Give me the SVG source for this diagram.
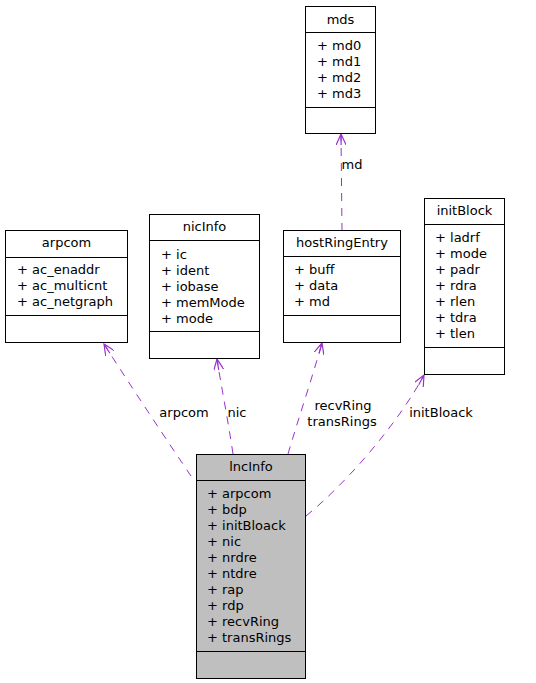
<svg xmlns="http://www.w3.org/2000/svg" width="536" height="683" viewBox="0 0 536 683">
<style>
text{font-family:"DejaVu Sans","Liberation Sans",sans-serif;font-size:13px;fill:#000}
.c{text-anchor:middle}
.box{fill:#fff;stroke:#000;stroke-width:1}
.hl{fill:#bfbfbf}
.ln{stroke:#000;stroke-width:1}
.e{fill:none;stroke:#9a32cd;stroke-width:1;stroke-dasharray:8,7;marker-end:url(#arr)}
.el{font-size:13px}
</style>
<defs>
<marker id="arr" viewBox="0 0 12 10" refX="11" refY="5" markerWidth="12" markerHeight="10" markerUnits="userSpaceOnUse" orient="auto">
<path d="M0,0 L11,5 L0,10 M0,5 L11,5" fill="none" stroke="#9a32cd" stroke-width="1.2"/>
</marker>
</defs>
<g id="edges">
<path class="e" d="M191,476 C170,445 130,385 104,344"/>
<path class="e" d="M233,454 C228,420 221,385 217,359"/>
<path class="e" d="M288,454 C298,420 313,375 322,343"/>
<path class="e" d="M306,516 C350,480 400,420 424,375"/>
<path class="e" d="M342,231 L341,134"/>
<text class="c el" x="184" y="417">arpcom</text>
<text class="c el" x="237" y="417">nic</text>
<text class="c el" x="343" y="410">recvRing</text>
<text class="c el" x="342" y="426">transRings</text>
<text class="c el" x="441" y="417">initBloack</text>
<text class="c el" x="352" y="169">md</text>
</g>
<g id="mds">
<rect class="box" x="305.5" y="6.5" width="70" height="127"/>
<line class="ln" x1="305.5" y1="32.5" x2="375.5" y2="32.5"/>
<line class="ln" x1="305.5" y1="107.5" x2="375.5" y2="107.5"/>
<text class="c" x="340.5" y="24">mds</text>
<text x="317" y="50">+ md0</text>
<text x="317" y="66">+ md1</text>
<text x="317" y="82">+ md2</text>
<text x="317" y="98">+ md3</text>
</g>
<g id="arpcom">
<rect class="box" x="5.5" y="230.5" width="122" height="112"/>
<line class="ln" x1="5.5" y1="257.5" x2="127.5" y2="257.5"/>
<line class="ln" x1="5.5" y1="315.5" x2="127.5" y2="315.5"/>
<text class="c" x="66.5" y="247">arpcom</text>
<text x="17" y="274">+ ac_enaddr</text>
<text x="17" y="290">+ ac_multicnt</text>
<text x="17" y="306">+ ac_netgraph</text>
</g>
<g id="nicInfo">
<rect class="box" x="149.5" y="214.5" width="110" height="144"/>
<line class="ln" x1="149.5" y1="240.5" x2="259.5" y2="240.5"/>
<line class="ln" x1="149.5" y1="331.5" x2="259.5" y2="331.5"/>
<text class="c" x="204.5" y="231">nicInfo</text>
<text x="161" y="259">+ ic</text>
<text x="161" y="275">+ ident</text>
<text x="161" y="291">+ iobase</text>
<text x="161" y="307">+ memMode</text>
<text x="161" y="323">+ mode</text>
</g>
<g id="hostRingEntry">
<rect class="box" x="283.5" y="230.5" width="117" height="112"/>
<line class="ln" x1="283.5" y1="256.5" x2="400.5" y2="256.5"/>
<line class="ln" x1="283.5" y1="315.5" x2="400.5" y2="315.5"/>
<text class="c" x="342" y="247">hostRingEntry</text>
<text x="294" y="274">+ buff</text>
<text x="294" y="290">+ data</text>
<text x="294" y="306">+ md</text>
</g>
<g id="initBlock">
<rect class="box" x="424.5" y="198.5" width="80" height="176"/>
<line class="ln" x1="424.5" y1="224.5" x2="504.5" y2="224.5"/>
<line class="ln" x1="424.5" y1="347.5" x2="504.5" y2="347.5"/>
<text class="c" x="464.5" y="215">initBlock</text>
<text x="435" y="242">+ ladrf</text>
<text x="435" y="258">+ mode</text>
<text x="435" y="274">+ padr</text>
<text x="435" y="290">+ rdra</text>
<text x="435" y="306">+ rlen</text>
<text x="435" y="322">+ tdra</text>
<text x="435" y="338">+ tlen</text>
</g>
<g id="lncInfo">
<rect class="box hl" x="196.5" y="454.5" width="109" height="224"/>
<line class="ln" x1="196.5" y1="480.5" x2="305.5" y2="480.5"/>
<line class="ln" x1="196.5" y1="651.5" x2="305.5" y2="651.5"/>
<text class="c" x="251" y="471">lncInfo</text>
<text x="207" y="498">+ arpcom</text>
<text x="207" y="514">+ bdp</text>
<text x="207" y="530">+ initBloack</text>
<text x="207" y="546">+ nic</text>
<text x="207" y="562">+ nrdre</text>
<text x="207" y="578">+ ntdre</text>
<text x="207" y="594">+ rap</text>
<text x="207" y="610">+ rdp</text>
<text x="207" y="626">+ recvRing</text>
<text x="207" y="642">+ transRings</text>
</g>
</svg>
